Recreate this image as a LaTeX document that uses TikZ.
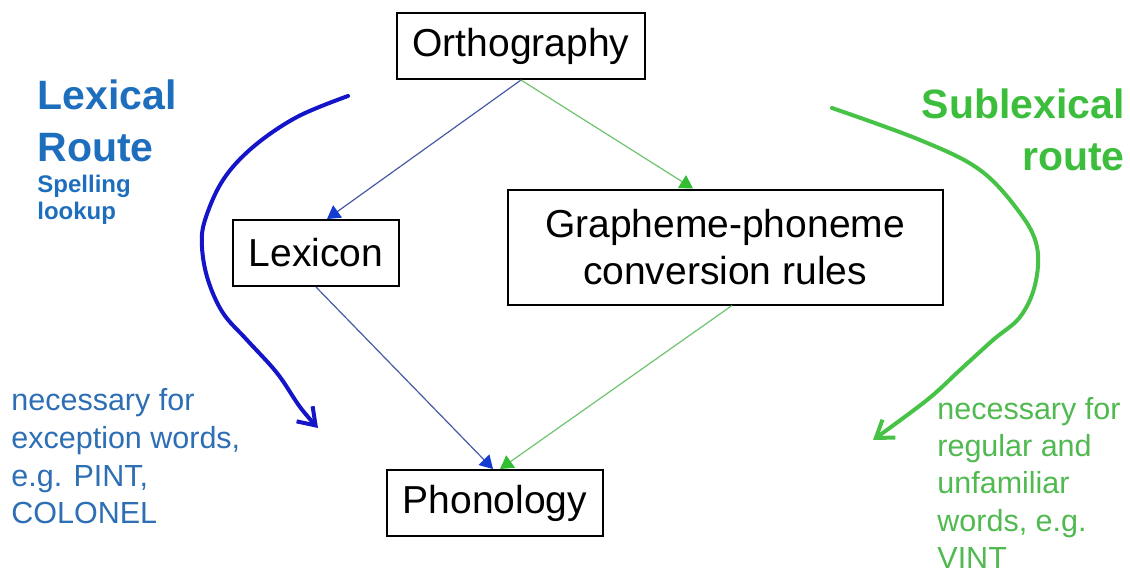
\documentclass[tikz,border=0pt]{standalone}
\usepackage{fontspec}
\setmainfont{Liberation Sans}
\usepackage{tikz}
\usetikzlibrary{arrows.meta, positioning}

\definecolor{lexthin}{RGB}{70,90,165}
\definecolor{lextip}{RGB}{20,60,210}
\definecolor{subthin}{RGB}{110,195,110}
\definecolor{subtip}{RGB}{50,190,50}
\definecolor{titleblue}{RGB}{30,110,190}
\definecolor{noteblue}{RGB}{45,110,180}
\definecolor{titlegreen}{RGB}{60,190,60}
\definecolor{notegreen}{RGB}{80,185,80}
\definecolor{handblue}{RGB}{20,20,200}
\definecolor{handgreen}{RGB}{70,195,70}

\begin{document}
\begin{tikzpicture}[
        x=0.5pt, y=-0.5pt,
        every node/.style={inner sep=0pt},
        box/.style={draw, line width=1pt, inner xsep=8pt, minimum height=33pt,
          font=\fontsize{19.5}{23.5}\selectfont},
        lexline/.style={draw=lexthin, line width=0.6pt,
          -{Triangle[length=6.5pt, width=7.5pt, color=lextip]}},
        subline/.style={draw=subthin, line width=0.6pt,
          -{Triangle[length=6.5pt, width=7.5pt, color=subtip]}},
        lexcurve/.style={draw=handblue, line width=2pt, line cap=round,
          -{Straight Barb[length=8pt, width=11pt]}},
        subcurve/.style={draw=handgreen, line width=2pt, line cap=round,
          -{Straight Barb[length=8pt, width=11pt]}},
        % route titles and side notes
        title/.style={font=\bfseries\fontsize{20.5}{26}\selectfont},
        subnote/.style={font=\bfseries\fontsize{12}{13.5}\selectfont},
        note/.style={font=\fontsize{15.25}{18.9}\selectfont, align=left},
    ]
        \useasboundingbox (0,0) rectangle (1130,575);

        \node[box] (ortho) at (521,46) {Orthography};
        \node[box] (lexicon) at (316,253) {Lexicon};
        \node[box, align=center, minimum width=217.5pt, minimum height=57.5pt]
          (gpc) at (725,247) {Grapheme-phoneme\\conversion rules};
        \node[box] (phon) at (495,503) {Phonology};

        \draw[lexline] (ortho.south) -- ([xshift=5.5pt]lexicon.north);
        \draw[subline] (ortho.south) -- ([xshift=-16pt]gpc.north);
        \draw[lexline] (lexicon.south) -- ([xshift=-1pt]phon.north);
        \draw[subline] ([xshift=3.5pt]gpc.south) -- ([xshift=2.5pt]phon.north);

        \node[title, text=titleblue, align=left, anchor=north west]
          (lexroute) at (37,79) {Lexical\\Route};
        \node[subnote, text=titleblue, align=left, anchor=north west]
          (spelling) at (37,175) {Spelling\\lookup};
        \node[title, text=titlegreen, align=right, anchor=north east]
          (subroute) at (1125,88) {Sublexical\\route};

        \node[note, text=noteblue, anchor=north west] (lexnote) at (11,388)
          {necessary for\\exception words,\\e.g. PINT,\\COLONEL};
        \node[note, text=notegreen, anchor=north west,
          font=\fontsize{15.25}{18.6}\selectfont] (subnote) at (937,397)
          {necessary for\\regular and\\unfamiliar\\words, e.g.\\VINT};

        % hand drawn route arrows
        \draw[lexcurve] plot[smooth, tension=0.6] coordinates {(348,96) (297,117)
          (253,147) (223,180) (205,220) (202,247) (208,280) (223,313) (247,340)
          (277,373) (300,407) (318,428)};
        \draw[subcurve] plot[smooth, tension=0.6] coordinates {(832,108) (920,140)
          (980,170) (1020,213) (1037,247) (1035,285) (1020,317) (993,340)
          (960,370) (927,400) (873,440)};
    \end{tikzpicture}
\end{document}
